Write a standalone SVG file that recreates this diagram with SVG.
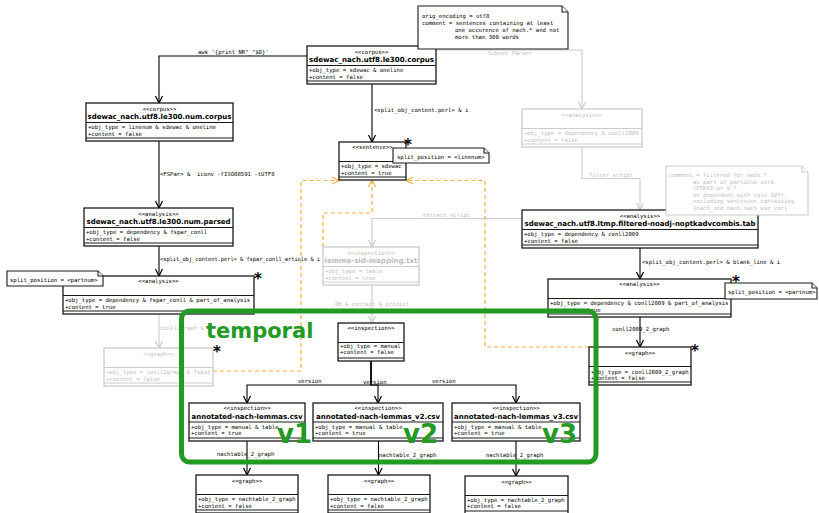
<svg xmlns="http://www.w3.org/2000/svg" width="819" height="513" viewBox="0 0 819 513">
  <style>
    .box{fill:#fff;stroke:#1a1a1a;stroke-width:1.3}
    .sep{stroke:#1a1a1a;stroke-width:1}
    .gbox{fill:#fff;stroke:#cccccc;stroke-width:1.3}
    .gsep{stroke:#cccccc;stroke-width:1}
    .st{font-family:"DejaVu Sans Mono",monospace;font-size:5.6px;text-anchor:middle;fill:#000}
    .nm{font-family:"DejaVu Sans",sans-serif;font-weight:bold;font-size:7.1px;text-anchor:middle;fill:#000}
    .at{font-family:"DejaVu Sans Mono",monospace;font-size:5.6px;fill:#000}
    .lb{font-family:"DejaVu Sans Mono",monospace;font-size:5.6px;fill:#000}
    .g{fill:#bdbdbd}
    .edge{fill:none;stroke:#000;stroke-width:1.1}
    .gedge{fill:none;stroke:#cccccc;stroke-width:1.1}
    .oedge{fill:none;stroke:#f4b040;stroke-width:1.2;stroke-dasharray:4 3}
    .note{fill:#fff;stroke:#1a1a1a;stroke-width:1.1}
    .gnote{fill:#fff;stroke:#cccccc;stroke-width:1.1}
    .star{font-family:"DejaVu Sans",sans-serif;font-weight:bold;font-size:15px;text-anchor:middle;fill:#000}
    .frame{fill:none;stroke:#239a23;stroke-width:5}
    .big{font-family:"DejaVu Sans",sans-serif;font-weight:bold;fill:#239a23}
  </style>
  <defs>
    <marker id="ah" viewBox="-9 -5 10 10" refX="0" refY="0" markerWidth="10" markerHeight="10" markerUnits="userSpaceOnUse" orient="auto">
      <path d="M-7,-3.5 L0,0 L-7,3.5" fill="none" stroke="#000" stroke-width="1.2"/>
    </marker>
    <marker id="ahg" viewBox="-9 -5 10 10" refX="0" refY="0" markerWidth="10" markerHeight="10" markerUnits="userSpaceOnUse" orient="auto">
      <path d="M-7,-3.5 L0,0 L-7,3.5" fill="none" stroke="#cccccc" stroke-width="1.2"/>
    </marker>
    <marker id="aho" viewBox="-9 -5 10 10" refX="0" refY="0" markerWidth="10" markerHeight="10" markerUnits="userSpaceOnUse" orient="auto">
      <path d="M-7,-3.5 L0,0 L-7,3.5" fill="none" stroke="#f4b040" stroke-width="1.2"/>
    </marker>
  </defs>

  <rect width="819" height="513" fill="#fff"/>

  <!-- connectors -->
  <g id="connectors">
    <!-- faded edges -->
    <path class="gedge" d="M436,50 H582 V109" marker-end="url(#ahg)"/>
    <path class="gedge" d="M582,147 V178.5 H640 V210" marker-end="url(#ahg)"/>
    <path class="gedge" d="M522,218.5 H372 V247" marker-end="url(#ahg)"/>
    <path class="gedge" d="M372,285 V323" marker-end="url(#ahg)"/>
    <path class="gedge" d="M159,314 V348" marker-end="url(#ahg)"/>
    <text class="lb g" x="488" y="55">Subset Parser</text>
    <text class="lb g" x="589" y="176.5">filter script</text>
    <text class="lb g" x="423" y="217">extract script</text>
    <text class="lb g" x="335" y="306">8H &amp; extract &amp; predict</text>
    <text class="lb g" x="160" y="330">conll2graph &amp;</text>

    <!-- dependency lines into the sentence node -->
    <path class="oedge" d="M213,371 H301 V180.5 H339" marker-end="url(#aho)"/>
    <path class="oedge" d="M323,247 V213 H372 V180" marker-end="url(#aho)"/>
    <path class="oedge" d="M589,347 H485 V180.5 H406" marker-end="url(#aho)"/>

    <!-- processing edges -->
    <path class="edge" d="M307,56 H159 V103" marker-end="url(#ah)"/>
    <path class="edge" d="M372,84 V142" marker-end="url(#ah)"/>
    <path class="edge" d="M159,141 V208" marker-end="url(#ah)"/>
    <path class="edge" d="M159,246 V276" marker-end="url(#ah)"/>
    <path class="edge" d="M640,248 V279" marker-end="url(#ah)"/>
    <path class="edge" d="M640,317 V347" marker-end="url(#ah)"/>
    <path class="edge" d="M371,361 V385 H247 V403" marker-end="url(#ah)"/>
    <path class="edge" d="M371,361 V385 H378 V403" marker-end="url(#ah)"/>
    <path class="edge" d="M371,361 V385 H516 V403" marker-end="url(#ah)"/>
    <path class="edge" d="M247,441 V475" marker-end="url(#ah)"/>
    <path class="edge" d="M378.5,441 V475" marker-end="url(#ah)"/>
    <path class="edge" d="M516,441 V476" marker-end="url(#ah)"/>

    <text class="lb" x="198" y="54">awk '{print NR"_"$0}'</text>
    <text class="lb" x="374" y="112">&lt;split_obj_content.perl&gt; &amp; i</text>
    <text class="lb" x="160" y="176" xml:space="preserve">&lt;FSPar&gt; &amp;  iconv -fISO88591 -tUTF8</text>
    <text class="lb" x="160" y="261" textLength="160" lengthAdjust="spacingAndGlyphs">&lt;split_obj_content.perl&gt; &amp; fspar_conll_article &amp; i</text>
    <text class="lb" x="642" y="264">&lt;split_obj_content.perl&gt; &amp; blank_line &amp; i</text>
    <text class="lb" x="612" y="331">conll2009_2_graph</text>
    <text class="lb" x="298" y="383">version</text>
    <text class="lb" x="363" y="384">version</text>
    <text class="lb" x="432" y="383">version</text>
    <text class="lb" x="217" y="456">nachtable_2_graph</text>
    <text class="lb" x="379" y="457">nachtable_2_graph</text>
    <text class="lb" x="486" y="457">nachtable_2_graph</text>
  </g>

  <!-- corpus -->
  <g id="corpus">
    <rect class="box" x="307" y="46" width="129" height="38"/>
    <line class="sep" x1="307" y1="65.5" x2="436" y2="65.5"/>
    <line class="sep" x1="307" y1="81" x2="436" y2="81"/>
    <text class="st" x="371.5" y="53.5">&lt;&lt;corpus&gt;&gt;</text>
    <text class="nm" x="371.5" y="61.5" textLength="125" lengthAdjust="spacingAndGlyphs">sdewac_nach.utf8.le300.corpus</text>
    <text class="at" x="309" y="72">+obj_type = sdewac &amp; oneline</text>
    <text class="at" x="309" y="78.5">+content = false</text>
  </g>

  <g id="num-corpus">
    <rect class="box" x="86" y="103" width="147" height="38"/>
    <line class="sep" x1="86" y1="122.5" x2="233" y2="122.5"/>
    <line class="sep" x1="86" y1="138" x2="233" y2="138"/>
    <text class="st" x="159.5" y="110.5">&lt;&lt;corpus&gt;&gt;</text>
    <text class="nm" x="159.5" y="118.5" textLength="144" lengthAdjust="spacingAndGlyphs">sdewac_nach.utf8.le300.num.corpus</text>
    <text class="at" x="88" y="129">+obj_type = linenum &amp; sdewac &amp; oneline</text>
    <text class="at" x="88" y="135.5">+content = false</text>
  </g>

  <g id="num-parsed">
    <rect class="box" x="84" y="208" width="149" height="38"/>
    <line class="sep" x1="84" y1="227.5" x2="233" y2="227.5"/>
    <line class="sep" x1="84" y1="243" x2="233" y2="243"/>
    <text class="st" x="158.5" y="215.5">&lt;&lt;analysis&gt;&gt;</text>
    <text class="nm" x="158.5" y="223.5" textLength="144" lengthAdjust="spacingAndGlyphs">sdewac_nach.utf8.le300.num.parsed</text>
    <text class="at" x="86" y="234">+obj_type = dependency &amp; fspar_conll</text>
    <text class="at" x="86" y="240.5">+content = false</text>
  </g>

  <g id="analysis-parts-fspar">
    <rect class="box" x="63" y="276" width="191" height="38"/>
    <line class="sep" x1="63" y1="295.5" x2="254" y2="295.5"/>
    <line class="sep" x1="63" y1="311" x2="254" y2="311"/>
    <text class="st" x="158.5" y="283">&lt;&lt;analysis&gt;&gt;</text>
    <text class="at" x="65" y="302">+obj_type = dependency &amp; fspar_conll &amp; part_of_analysis</text>
    <text class="at" x="65" y="308.5">+content = true</text>
  </g>

  <g id="sentence">
    <rect class="box" x="339" y="142" width="67" height="38"/>
    <line class="sep" x1="339" y1="161.5" x2="406" y2="161.5"/>
    <line class="sep" x1="339" y1="177" x2="406" y2="177"/>
    <text class="st" x="372.5" y="149">&lt;&lt;sentence&gt;&gt;</text>
    <text class="at" x="341" y="168">+obj_type = sdewac</text>
    <text class="at" x="341" y="174.5">+content = true</text>
  </g>

  <g id="analysis-conll-faded">
    <rect class="gbox" x="522" y="109" width="120" height="38"/>
    <line class="gsep" x1="522" y1="128.5" x2="642" y2="128.5"/>
    <line class="gsep" x1="522" y1="144" x2="642" y2="144"/>
    <text class="st g" x="582" y="116.5">&lt;&lt;analysis&gt;&gt;</text>
    <text class="at g" x="524" y="135">+obj_type = dependency &amp; conll2009</text>
    <text class="at g" x="524" y="141.5">+content = false</text>
  </g>

  <g id="filtered-tab">
    <rect class="box" x="522" y="210" width="236" height="38"/>
    <line class="sep" x1="522" y1="229.5" x2="758" y2="229.5"/>
    <line class="sep" x1="522" y1="245" x2="758" y2="245"/>
    <text class="st" x="640" y="217.5">&lt;&lt;analysis&gt;&gt;</text>
    <text class="nm" x="640" y="225.5" textLength="231" lengthAdjust="spacingAndGlyphs">sdewac_nach.utf8.ltmp.filtered-noadj-noptkadvcombis.tab</text>
    <text class="at" x="524" y="236">+obj_type = dependency &amp; conll2009</text>
    <text class="at" x="524" y="242.5">+content = false</text>
  </g>

  <g id="analysis-parts-conll">
    <rect class="box" x="548" y="279" width="183" height="38"/>
    <line class="sep" x1="548" y1="298.5" x2="731" y2="298.5"/>
    <line class="sep" x1="548" y1="314" x2="731" y2="314"/>
    <text class="st" x="639.5" y="286">&lt;&lt;analysis&gt;&gt;</text>
    <text class="at" x="550" y="305">+obj_type = dependency &amp; conll2009 &amp; part_of_analysis</text>
    <text class="at" x="550" y="311.5">+content = true</text>
  </g>

  <g id="graph-conll2009">
    <rect class="box" x="589" y="347" width="102" height="38"/>
    <line class="sep" x1="589" y1="366.5" x2="691" y2="366.5"/>
    <line class="sep" x1="589" y1="382" x2="691" y2="382"/>
    <text class="st" x="640" y="355">&lt;&lt;graph&gt;&gt;</text>
    <text class="at" x="591" y="373.5">+obj_type = conll2009_2_graph</text>
    <text class="at" x="591" y="380">+content = false</text>
  </g>

  <g id="lemma-sid-mapping">
    <rect class="gbox" x="323" y="247" width="96" height="38"/>
    <line class="gsep" x1="323" y1="266.5" x2="419" y2="266.5"/>
    <line class="gsep" x1="323" y1="282" x2="419" y2="282"/>
    <text class="st g" x="371" y="254.5">&lt;&lt;inspection&gt;&gt;</text>
    <text class="nm g" x="371" y="262.5" textLength="93" lengthAdjust="spacingAndGlyphs">lemma-sid-mapping.txt</text>
    <text class="at g" x="325" y="273">+obj_type = table</text>
    <text class="at g" x="325" y="279.5">+content = true</text>
  </g>

  <g id="graph-fspar-faded">
    <rect class="gbox" x="104" y="348" width="109" height="38"/>
    <line class="gsep" x1="104" y1="367.5" x2="213" y2="367.5"/>
    <line class="gsep" x1="104" y1="383" x2="213" y2="383"/>
    <text class="st g" x="158.5" y="355.5">&lt;&lt;graph&gt;&gt;</text>
    <text class="at g" x="106" y="374">+obj_type = conll2graph &amp; fspar</text>
    <text class="at g" x="106" y="380.5">+content = false</text>
  </g>

  <g id="inspection-manual">
    <rect class="box" x="338" y="323" width="66" height="38"/>
    <line class="sep" x1="338" y1="342.5" x2="404" y2="342.5"/>
    <line class="sep" x1="338" y1="358" x2="404" y2="358"/>
    <text class="st" x="371" y="329.5">&lt;&lt;inspection&gt;&gt;</text>
    <text class="at" x="340" y="347.5">+obj_type = manual</text>
    <text class="at" x="340" y="354">+content = false</text>
  </g>

  <g id="lemmas-v1">
    <rect class="box" x="189" y="403" width="116" height="38"/>
    <line class="sep" x1="189" y1="422" x2="305" y2="422"/>
    <line class="sep" x1="189" y1="438" x2="305" y2="438"/>
    <text class="st" x="247" y="410">&lt;&lt;inspection&gt;&gt;</text>
    <text class="nm" x="247" y="418.5" textLength="111" lengthAdjust="spacingAndGlyphs">annotated-nach-lemmas.csv</text>
    <text class="at" x="191" y="428.5">+obj_type = manual &amp; table</text>
    <text class="at" x="191" y="435">+content = true</text>
  </g>

  <g id="lemmas-v2">
    <rect class="box" x="313" y="403" width="130" height="38"/>
    <line class="sep" x1="313" y1="422" x2="443" y2="422"/>
    <line class="sep" x1="313" y1="438" x2="443" y2="438"/>
    <text class="st" x="378" y="410">&lt;&lt;inspection&gt;&gt;</text>
    <text class="nm" x="378" y="418.5" textLength="124" lengthAdjust="spacingAndGlyphs">annotated-nach-lemmas_v2.csv</text>
    <text class="at" x="315" y="428.5">+obj_type = manual &amp; table</text>
    <text class="at" x="315" y="435">+content = true</text>
  </g>

  <g id="lemmas-v3">
    <rect class="box" x="452" y="403" width="128" height="38"/>
    <line class="sep" x1="452" y1="422" x2="580" y2="422"/>
    <line class="sep" x1="452" y1="438" x2="580" y2="438"/>
    <text class="st" x="516" y="410">&lt;&lt;inspection&gt;&gt;</text>
    <text class="nm" x="516" y="418.5" textLength="124" lengthAdjust="spacingAndGlyphs">annotated-nach-lemmas_v3.csv</text>
    <text class="at" x="454" y="428.5">+obj_type = manual &amp; table</text>
    <text class="at" x="454" y="435">+content = true</text>
  </g>

  <g id="graph-v1">
    <rect class="box" x="196" y="475" width="102" height="38"/>
    <line class="sep" x1="196" y1="494.5" x2="298" y2="494.5"/>
    <line class="sep" x1="196" y1="510" x2="298" y2="510"/>
    <text class="st" x="247" y="482.5">&lt;&lt;graph&gt;&gt;</text>
    <text class="at" x="198" y="501">+obj_type = nachtable_2_graph</text>
    <text class="at" x="198" y="507.5">+content = false</text>
  </g>

  <g id="graph-v2">
    <rect class="box" x="328" y="475" width="102" height="38"/>
    <line class="sep" x1="328" y1="494.5" x2="430" y2="494.5"/>
    <line class="sep" x1="328" y1="510" x2="430" y2="510"/>
    <text class="st" x="379" y="482.5">&lt;&lt;graph&gt;&gt;</text>
    <text class="at" x="330" y="501">+obj_type = nachtable_2_graph</text>
    <text class="at" x="330" y="507.5">+content = false</text>
  </g>

  <g id="graph-v3">
    <rect class="box" x="465" y="476" width="103" height="38"/>
    <line class="sep" x1="465" y1="495.5" x2="568" y2="495.5"/>
    <line class="sep" x1="465" y1="511" x2="568" y2="511"/>
    <text class="st" x="516.5" y="483.5">&lt;&lt;graph&gt;&gt;</text>
    <text class="at" x="467" y="501.5">+obj_type = nachtable_2_graph</text>
    <text class="at" x="467" y="508">+content = false</text>
  </g>

  <!-- notes -->
  <g id="note-corpus">
    <path class="note" d="M418,6 H562 L568,12 V49 H418 Z"/>
    <path class="note" d="M562,6 V12 H568" fill="none"/>
    <text class="lb" x="422" y="18">orig_encoding = utf8</text>
    <text class="lb" x="422" y="25">comment = sentences containing at least</text>
    <text class="lb" x="455" y="32">one occurence of nach.* and not</text>
    <text class="lb" x="455" y="39">more than 300 words</text>
  </g>

  <g id="note-filter">
    <path class="gnote" d="M666,166 H802 L808,172 V215 H666 Z"/>
    <path class="gnote" d="M802,166 V172 H808" fill="none"/>
    <text class="lb g" x="669" y="177">comment = filtered for nach.*</text>
    <text class="lb g" x="693" y="183.5">as part of particle verb</text>
    <text class="lb g" x="693" y="190">(PTKVZ or V.*</text>
    <text class="lb g" x="693" y="196.5">or dependent with role SVP),</text>
    <text class="lb g" x="693" y="203">excluding sentences containing</text>
    <text class="lb g" x="693" y="209.5">{nach_und_nach,nach_wie_vor}</text>
  </g>

  <g id="note-linenum">
    <path class="note" d="M393,148 H484 L489,153 V163 H393 Z"/>
    <path class="note" d="M484,148 V153 H489" fill="none"/>
    <text class="lb" x="397" y="159">split_position = &lt;linenum&gt;</text>
  </g>

  <g id="note-partnum-left">
    <path class="note" d="M7,271 H98 L103,276 V286 H7 Z"/>
    <path class="note" d="M98,271 V276 H103" fill="none"/>
    <text class="lb" x="10" y="281.5">split_position = &lt;partnum&gt;</text>
  </g>

  <g id="note-partnum-right">
    <path class="note" d="M725,283 H812 L817,288 V299 H725 Z"/>
    <path class="note" d="M812,283 V288 H817" fill="none"/>
    <text class="lb" x="728" y="294">split_position = &lt;partnum&gt;</text>
  </g>

  <!-- multiplicity marks -->
  <g id="stars">
    <text class="star" x="408" y="150">*</text>
    <text class="star" x="258" y="284">*</text>
    <text class="star" x="736" y="287">*</text>
    <text class="star" x="695" y="355.5">*</text>
    <text class="star" x="217" y="356.5">*</text>
  </g>

  <!-- temporal versions frame -->
  <g id="temporal">
    <rect class="frame" x="181.5" y="311" width="414.5" height="151" rx="8"/>
    <text class="big" x="206" y="338" font-size="21">temporal</text>
    <text class="big" x="277" y="443" font-size="26">v1</text>
    <text class="big" x="403" y="443" font-size="26">v2</text>
    <text class="big" x="542" y="443" font-size="26">v3</text>
  </g>
</svg>
